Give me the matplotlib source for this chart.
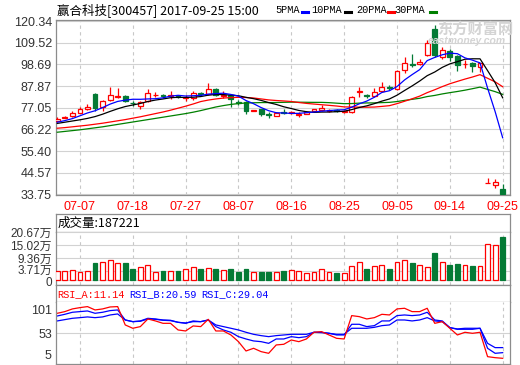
import matplotlib
matplotlib.use("Agg")
import matplotlib.pyplot as plt
import matplotlib.transforms as mtransforms
from matplotlib.lines import Line2D
import numpy as np
import pandas as pd

plt.rcParams['font.family'] = ['Liberation Sans', 'Noto Sans CJK SC', 'DejaVu Sans']

# ---- data ----
dates = pd.bdate_range('2017-07-04', '2017-09-25').strftime('%m-%d').tolist()
tick_labels = ['07-07', '07-18', '07-27', '08-07', '08-16', '08-25', '09-05', '09-14', '09-25']

opens = [70.3, 72.0, 72.8, 74.6, 76.3, 84.0, 77.2, 80.8, 82.6, 83.0,
         79.6, 77.8, 80.2, 83.2, 83.4, 82.9, 83.0, 81.8, 81.7, 84.2,
         83.9, 86.3, 83.1, 83.6, 80.0, 80.0, 75.3, 76.3, 73.8, 73.1,
         75.0, 74.4, 73.6, 74.0, 75.6, 75.9, 75.4, 75.8, 74.8, 75.1,
         84.7, 83.3, 82.7, 85.2, 87.4, 86.4, 96.0, 98.8, 98.8, 103.5,
         116.2, 102.3, 105.2, 102.9, 98.8, 99.4, 97.4, 39.3, 38.3, 36.6]
highs = [72.3, 72.8, 75.5, 77.2, 78.8, 84.3, 80.8, 87.4, 87.0, 83.5,
         80.6, 80.6, 86.3, 85.0, 84.0, 85.2, 83.5, 83.4, 85.4, 85.0,
         89.3, 86.8, 85.3, 84.0, 80.8, 80.3, 75.9, 76.5, 74.7, 75.0,
         76.2, 75.3, 74.8, 75.4, 76.4, 78.6, 76.6, 76.3, 76.0, 83.0,
         87.6, 84.0, 86.8, 90.1, 88.4, 95.9, 102.2, 103.9, 101.2, 111.0,
         118.4, 107.6, 106.2, 103.4, 100.8, 99.8, 99.5, 41.9, 41.2, 38.9]
lows = [69.8, 71.8, 72.5, 74.3, 75.9, 75.4, 75.6, 80.5, 82.0, 80.0,
        78.0, 76.5, 79.8, 82.5, 82.0, 81.6, 81.8, 80.5, 81.0, 83.0,
        83.5, 83.0, 82.0, 77.5, 78.6, 73.8, 75.2, 73.0, 72.0, 72.8,
        74.0, 74.0, 72.6, 73.8, 75.4, 75.6, 74.8, 74.7, 74.4, 74.6,
        82.6, 81.8, 82.2, 85.0, 85.9, 86.0, 94.6, 97.6, 98.3, 103.0,
        102.5, 101.2, 100.5, 95.5, 97.0, 95.0, 94.8, 39.3, 37.0, 33.75]
closes = [71.5, 72.4, 74.5, 76.3, 77.4, 77.0, 80.2, 83.3, 83.0, 80.6,
          79.2, 80.1, 84.2, 83.6, 82.8, 83.3, 82.3, 82.4, 84.3, 83.8,
          86.3, 83.6, 83.4, 81.2, 79.6, 75.3, 75.7, 73.8, 73.3, 74.6,
          74.6, 74.7, 73.9, 75.0, 76.2, 76.8, 76.0, 75.5, 75.6, 82.6,
          85.2, 82.9, 85.0, 87.6, 86.9, 95.5, 99.5, 98.3, 100.0, 109.5,
          103.5, 106.1, 102.4, 98.6, 99.1, 97.7, 99.3, 39.5, 39.9, 33.8]
# volume in 10k shares (万)
volume = [3.9, 4.0, 4.3, 3.6, 4.0, 7.5, 7.9, 8.6, 7.5, 7.5,
          4.7, 5.5, 6.5, 3.6, 4.0, 3.9, 4.0, 4.7, 5.5, 4.7,
          5.0, 4.7, 4.3, 4.7, 3.6, 4.7, 3.6, 3.6, 3.6, 3.6,
          4.0, 4.3, 4.0, 3.2, 3.6, 4.6, 3.6, 3.2, 3.2, 6.0,
          7.9, 4.7, 6.0, 6.5, 4.7, 7.9, 8.6, 7.5, 6.5, 5.5,
          11.8, 7.9, 6.5, 6.9, 6.5, 6.0, 6.0, 15.5, 15.1, 18.72]

# moving-average values before a full window exists
ma5_head = [69.8, 70.6, 71.6, 73.0]
ma10_head = [69.2, 69.8, 70.4, 71.0, 71.7, 72.6, 73.8, 75.2, 76.5]
ma20_head = [66.8, 67.1, 67.5, 67.9, 68.3, 68.8, 69.3, 69.9, 70.5, 71.1,
             71.8, 72.5, 73.3, 74.1, 74.9, 75.8, 76.8, 77.8, 78.9]
ma30_head = [64.8, 65.2, 65.6, 66.0, 66.5, 67.0, 67.5, 68.1, 68.7, 69.3,
             69.9, 70.5, 71.1, 71.7, 72.3, 72.9, 73.5, 74.1, 74.8, 75.6,
             76.5, 77.4, 78.1, 78.7, 79.1, 79.4, 79.5, 79.6, 79.6]

rsi_a = [86.5, 89.3, 93.8, 96.0, 97.7, 92.1, 93.8, 97.1, 97.7, 67.0,
         61.4, 64.2, 77.0, 73.7, 69.7, 69.7, 58.6, 56.9, 65.3, 64.2,
         76.4, 56.9, 56.9, 50.2, 39.0, 23.4, 27.9, 22.3, 19.5, 33.5,
         34.6, 41.8, 39.0, 43.5, 54.7, 55.8, 50.2, 44.6, 43.5, 82.6,
         80.9, 77.0, 79.2, 84.8, 83.7, 93.8, 94.9, 89.3, 89.3, 94.9,
         69.7, 72.5, 61.4, 50.2, 54.7, 53.0, 54.7, 13.9, 12.2, 11.14]
rsi_b = [82.0, 84.8, 88.2, 89.3, 90.4, 86.5, 88.2, 91.0, 92.1, 75.3,
         72.5, 73.7, 78.1, 77.0, 75.3, 74.8, 71.4, 69.7, 73.7, 72.5,
         75.3, 64.2, 58.6, 54.7, 47.4, 43.5, 40.2, 39.0, 36.2, 43.5,
         43.5, 47.4, 45.7, 47.4, 54.7, 54.7, 53.0, 50.2, 50.2, 68.1,
         68.1, 64.2, 65.8, 73.7, 73.7, 82.6, 83.7, 82.6, 83.7, 88.2,
         75.3, 73.7, 62.5, 60.3, 61.4, 61.4, 61.4, 27.9, 19.5, 20.59]
rsi_c = [73.7, 75.9, 78.1, 79.2, 80.4, 79.2, 80.4, 83.7, 85.4, 75.3,
         72.5, 73.1, 77.0, 76.4, 74.8, 74.2, 71.4, 70.3, 72.5, 72.5,
         75.3, 67.0, 64.2, 61.4, 58.6, 54.7, 51.3, 49.1, 47.4, 49.1,
         50.2, 51.3, 51.3, 51.3, 54.7, 54.1, 53.0, 51.3, 51.3, 61.4,
         61.4, 61.4, 63.0, 65.8, 67.0, 75.3, 75.3, 73.7, 75.3, 79.2,
         73.7, 72.5, 62.5, 59.7, 59.7, 59.7, 61.4, 36.2, 29.0, 29.04]

price_ticks = [120.34, 109.52, 98.69, 87.87, 77.05, 66.22, 55.40, 44.57, 33.75]
vol_ticks = [0, 3.71, 9.36, 15.02, 20.67]
vol_tick_labels = ['0', '3.71万', '9.36万', '15.02万', '20.67万']
rsi_ticks = [101, 53, 5]

# ---- helpers ----
W, H = 520, 365
RED, GREEN, BLUE = '#ff0000', '#047a35', '#0000ff'
GRID = '#c8c8c8'
EDGE = '#8c8c8c'
TXT = '#333333'

fig = plt.figure(figsize=(W / 100, H / 100), dpi=100)


def px_axes(x0, y0, x1, y1):
    ax = fig.add_axes([x0 / W, 1 - y1 / H, (x1 - x0) / W, (y1 - y0) / H])
    for s in ax.spines.values():
        s.set_color(EDGE)
        s.set_linewidth(0.9)
    return ax


def nudge(label, dy_px):
    # shift a tick label vertically by a few pixels (positive = up)
    off = mtransforms.ScaledTranslation(0, dy_px / 100, fig.dpi_scale_trans)
    label.set_transform(label.get_transform() + off)


n = len(closes)
x = np.arange(n)
o = np.array(opens)
c = np.array(closes)
up = c >= o
col = np.where(up, RED, GREEN)
face = np.where(up, 'white', GREEN)
tick_idx = [dates.index(t) for t in tick_labels]
xlim = (-0.17, n - 0.03)

cs = pd.Series(closes)


def ma(win, head):
    m = cs.rolling(win).mean().to_numpy()
    m[:win - 1] = head
    return m


# ---- price panel ----
ax = px_axes(56, 20, 510, 195)
ax.set_xlim(*xlim)
ax.set_ylim(33.45, 120.84)
ax.set_yticks(price_ticks)
ax.set_yticklabels([f'{v:.2f}' for v in price_ticks])
ax.set_xticks(tick_idx)
ax.set_xticklabels(tick_labels)
ax.tick_params(axis='y', length=0, pad=3, labelsize=9, labelcolor=TXT)
ax.tick_params(axis='x', length=0, pad=4, labelsize=9, labelcolor=RED)
ax.grid(axis='y', color='#d2d2d2', lw=0.8)
ax.grid(axis='x', color=GRID, lw=0.8, ls=(0, (3, 3)))
ax.set_axisbelow(True)

lo_b = np.minimum(o, c)
hi_b = np.maximum(o, c)
ax.vlines(x, hi_b, highs, color=col, lw=0.9, zorder=3)
ax.vlines(x, lows, lo_b, color=col, lw=0.9, zorder=3)
ax.bar(x, np.maximum(hi_b - lo_b, 0.15), width=0.64, bottom=lo_b,
       facecolor=face, edgecolor=col, lw=0.9, zorder=3)

ax.plot(x, ma(30, ma30_head), color='#008000', lw=0.9, zorder=4)
ax.plot(x, ma(20, ma20_head), color=RED, lw=0.9, zorder=4)
ax.plot(x, ma(10, ma10_head), color='black', lw=0.9, zorder=4)
ax.plot(x, ma(5, ma5_head), color=BLUE, lw=0.9, zorder=4)

# ---- volume panel ----
axvh = px_axes(56, 214, 510, 232)
axvh.set_xticks([])
axvh.set_yticks([])
axvh.text(2 / 454, 0.5, '成交量:187221', transform=axvh.transAxes,
          va='center', ha='left', fontsize=9, color='black',
          family=['Noto Sans CJK SC', 'DejaVu Sans'])

axv = px_axes(56, 232, 510, 285)
axv.spines['top'].set_visible(False)
axv.set_xlim(*xlim)
axv.set_ylim(-2.15, 20.67)
axv.set_yticks(vol_ticks)
axv.set_yticklabels(vol_tick_labels)
axv.set_xticks(tick_idx)
axv.set_xticklabels([])
axv.tick_params(length=0, pad=3, labelsize=8.5, labelcolor=TXT)
axv.grid(axis='y', color='#d2d2d2', lw=0.8)
axv.grid(axis='x', color=GRID, lw=0.8, ls=(0, (3, 3)))
axv.set_axisbelow(True)
vlabs = axv.get_yticklabels()
nudge(vlabs[1], 2)
nudge(vlabs[0], -1)
axv.bar(x, volume, width=0.64, facecolor=face, edgecolor=col, lw=0.9, zorder=3)

# ---- RSI panel ----
axrh = px_axes(56, 285, 510, 302)
axrh.set_xticks([])
axrh.set_yticks([])
mono = ['Liberation Mono', 'DejaVu Sans Mono']
for xp, s, cc in [(1, 'RSI_A:11.14', RED), (73, 'RSI_B:20.59', BLUE), (145, 'RSI_C:29.04', BLUE)]:
    axrh.text(xp / 454, 0.45, s, transform=axrh.transAxes, va='center',
              ha='left', fontsize=7.4, color=cc, family=mono)

axr = px_axes(56, 302, 510, 364)
axr.spines['top'].set_visible(False)
axr.set_xlim(*xlim)
axr.set_ylim(1.6, 105.4)
axr.set_yticks(rsi_ticks)
axr.set_yticklabels([str(v) for v in rsi_ticks])
labs = axr.get_yticklabels()
labs[0].set_va('top')
labs[2].set_va('bottom')
axr.set_xticks(tick_idx)
axr.set_xticklabels([])
axr.tick_params(length=0, pad=3, labelsize=9, labelcolor=TXT)
axr.grid(axis='x', color=GRID, lw=0.8, ls=(0, (3, 3)))
axr.axhline(53, color='#d2d2d2', lw=0.8, zorder=0)
axr.plot(x, rsi_c, color=BLUE, lw=0.9)
axr.plot(x, rsi_b, color=BLUE, lw=0.9)
axr.plot(x, rsi_a, color=RED, lw=0.9)

# ---- header texts ----
cjk = ['Noto Sans CJK SC', 'DejaVu Sans']
fig.text(57 / W, 1 - 10 / H, '赢合科技[300457] 2017-09-25 15:00', fontsize=9,
         va='center', ha='left', family=cjk, color='black')
legend = [(275, 302, '5PMA', BLUE), (311, 345, '10PMA', 'black'),
          (356, 388, '20PMA', RED), (394, 430, '30PMA', '#008000')]
for tx, dx, lab, cc in legend:
    fig.text(tx / W, 1 - 10 / H, lab, fontsize=7.4, va='center', ha='left',
             family=mono, color='black')
    fig.add_artist(Line2D([dx / W, (dx + 6) / W], [1 - 11.5 / H] * 2,
                          color=cc, lw=2.2, transform=fig.transFigure))

# watermark
fig.text(475 / W, 1 - 29 / H, '东方财富网', fontsize=11, fontweight='bold',
         color='#d4d4d4', ha='center', va='center', family=cjk, zorder=0)
fig.text(467 / W, 1 - 41.5 / H, 'eastmoney.com', fontsize=7.5, fontweight='bold',
         style='italic', color='#d4d4d4', ha='center', va='center', zorder=0)

fig.savefig('out.png', dpi=100)
